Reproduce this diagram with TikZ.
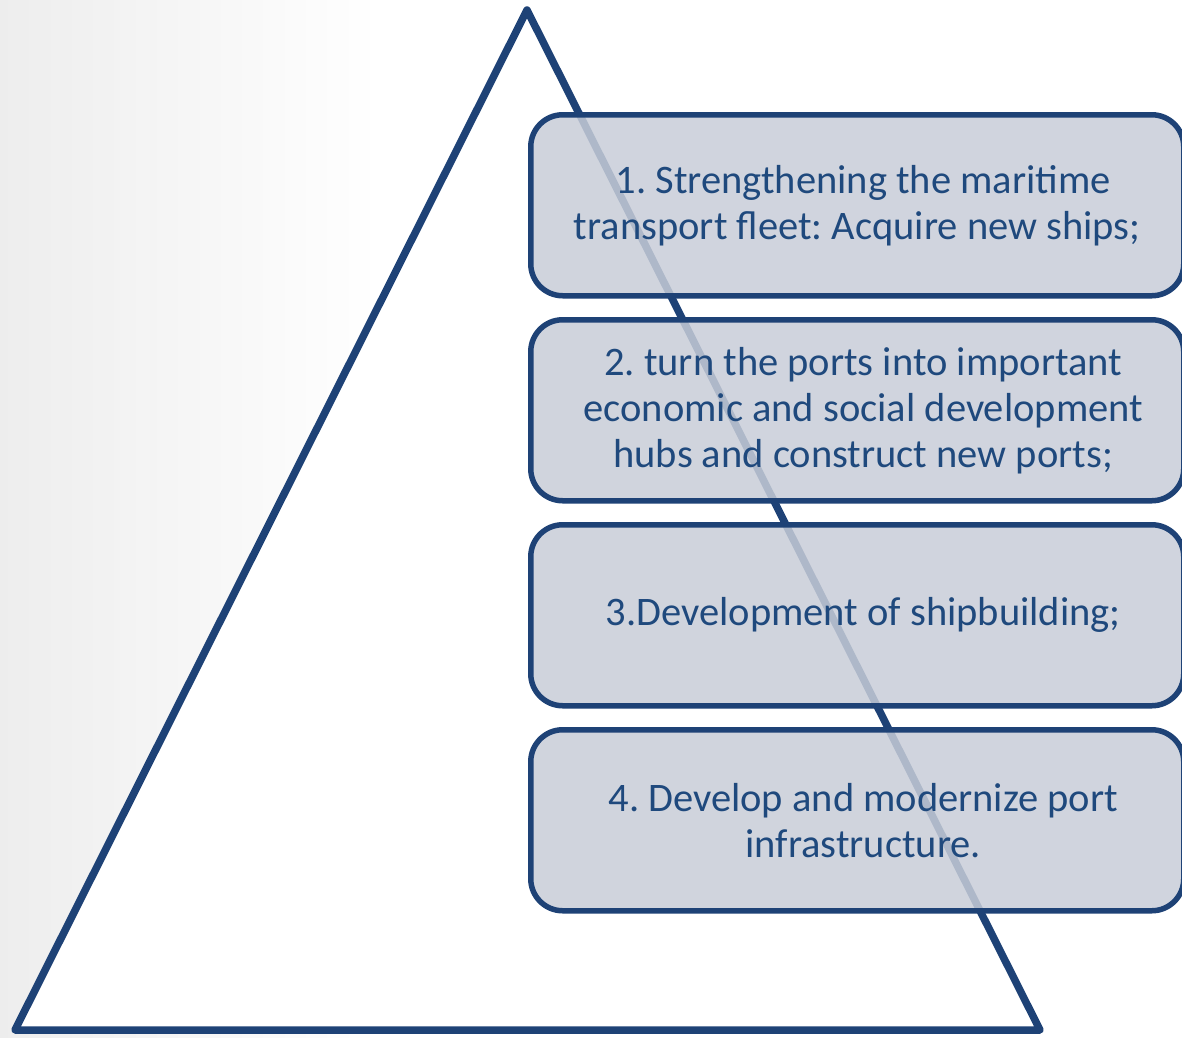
\documentclass[tikz,border=0pt]{standalone}
\usepackage{fontspec}
\setmainfont{Carlito}
\frenchspacing
\definecolor{navy}{RGB}{30,66,118}
\definecolor{txtblue}{RGB}{31,73,125}
\definecolor{boxfill}{RGB}{200,205,216}
\begin{document}
\begin{tikzpicture}[x=1pt,y=-1pt,
  stepbox/.style={draw=navy, line width=5.5pt, rounded corners=32pt, fill=boxfill, fill opacity=0.85, text opacity=1,
    minimum width=653pt, minimum height=181pt, anchor=north west, text=txtblue, align=center,
    font=\fontsize{40.5}{46}\selectfont, inner sep=0pt}]
\useasboundingbox (0,0) rectangle (1182,1037);
\shade[left color=black!7, right color=white] (0,0) rectangle (380,1037);
\draw[navy, line width=7.5pt, line join=round, fill=white] (527,10) -- (15,1030) -- (1040,1030) -- cycle;
\node[stepbox] (b1) at (528,112) {\hspace*{12pt}1. Strengthening the maritime\\transport fleet: Acquire new ships;};
\node[stepbox] (b2) at (528,317) {\hspace*{12pt}2. turn the ports into important\\\hspace*{12pt}economic and social development\\\hspace*{12pt}hubs and construct new ports;};
\node[stepbox] (b3) at (528,522) {\hspace*{12pt}3.Development of shipbuilding;};
\node[stepbox] (b4) at (528,727) {\hspace*{12pt}4. Develop and modernize port\\\hspace*{12pt}infrastructure.};
\end{tikzpicture}
\end{document}
